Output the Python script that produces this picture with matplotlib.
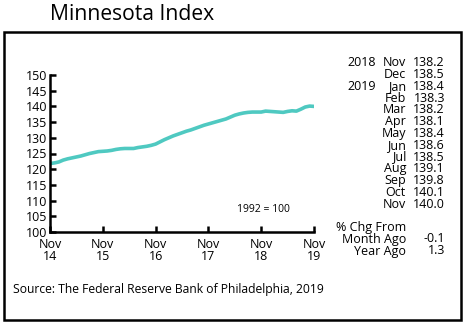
import matplotlib.pyplot as plt
from matplotlib.patches import Rectangle

plt.rcParams['font.family'] = ['Open Sans', 'DejaVu Sans']

# Monthly index, Nov 2014 - Nov 2019 (1992 = 100)
index_values = [
    121.8, 122.0, 122.3, 122.9, 123.3, 123.6, 123.9, 124.2, 124.6, 125.0, 125.3, 125.6,
    125.7, 125.8, 126.0, 126.3, 126.5, 126.6, 126.6, 126.6, 126.9, 127.1, 127.3, 127.6,
    128.0, 128.7, 129.4, 130.0, 130.6, 131.1, 131.6, 132.1, 132.5, 133.0, 133.5, 134.0,
    134.4, 134.8, 135.2, 135.6, 136.0, 136.6, 137.2, 137.6, 137.9, 138.1, 138.2, 138.2,
    138.2, 138.5, 138.4, 138.3, 138.2, 138.1, 138.4, 138.6, 138.5, 139.1, 139.8, 140.1,
    140.0,
]
x_tick_labels = ['Nov\n14', 'Nov\n15', 'Nov\n16', 'Nov\n17', 'Nov\n18', 'Nov\n19']
y_ticks = list(range(100, 151, 5))

table_years = ['2018', '', '2019', '', '', '', '', '', '', '', '', '', '']
table_months = ['Nov', 'Dec', 'Jan', 'Feb', 'Mar', 'Apr', 'May', 'Jun',
                'Jul', 'Aug', 'Sep', 'Oct', 'Nov']
table_values = ['138.2', '138.5', '138.4', '138.3', '138.2', '138.1', '138.4',
                '138.6', '138.5', '139.1', '139.8', '140.1', '140.0']
chg_labels = ['Month Ago', 'Year Ago']
chg_values = ['-0.1', '1.3']

W, H = 466, 323
fig = plt.figure(figsize=(W / 100, H / 100), dpi=100)

def fx(px):
    return px / W

def fy(py):
    return 1 - py / H

# outer frame
fig.patches.append(Rectangle((fx(4), fy(320)), fx(457), (320 - 32) / H,
                             transform=fig.transFigure, fill=False,
                             edgecolor='black', linewidth=1.8))

fig.text(fx(50), fy(15), 'Minnesota Index', fontsize=15.2, va='center', ha='left')

ax = fig.add_axes([fx(50), fy(232), fx(314 - 50), (232 - 75) / H])
ax.plot(range(len(index_values)), index_values, color='#4fc9c1', linewidth=2.6,
        solid_capstyle='round')
ax.set_xlim(0, len(index_values) - 1)
ax.set_ylim(100, 150)
ax.set_yticks(y_ticks)
ax.set_xticks(range(0, len(index_values), 12))
ax.set_xticklabels(x_tick_labels, linespacing=0.95)
ax.tick_params(direction='in', length=4, width=1.8, labelsize=9, pad=2)
ax.tick_params(axis='x', pad=4)
for side in ['top', 'right']:
    ax.spines[side].set_visible(False)
for side in ['left', 'bottom']:
    ax.spines[side].set_linewidth(1.8)
ax.patch.set_alpha(0)
ax.text(0.81, 0.145, '1992 = 100', transform=ax.transAxes, fontsize=7.5,
        ha='center', va='center')

# side table of recent values
row0, step = 63, 11.75
for i, (yr, mo, val) in enumerate(zip(table_years, table_months, table_values)):
    y = fy(row0 + i * step)
    if yr:
        fig.text(fx(347), y, yr, fontsize=9, ha='left', va='center')
    fig.text(fx(406), y, mo, fontsize=9, ha='right', va='center')
    fig.text(fx(445), y, val, fontsize=9, ha='right', va='center')

fig.text(fx(406), fy(227), '% Chg From', fontsize=9, ha='right', va='center')
for i, (lab, val) in enumerate(zip(chg_labels, chg_values)):
    y = fy(239 + i * 12)
    fig.text(fx(406), y, lab, fontsize=9, ha='right', va='center')
    fig.text(fx(445), y, val, fontsize=9, ha='right', va='center')

fig.text(fx(13), fy(289), 'Source: The Federal Reserve Bank of Philadelphia, 2019',
         fontsize=8.75, ha='left', va='center')

fig.savefig('out.png', dpi=100)
